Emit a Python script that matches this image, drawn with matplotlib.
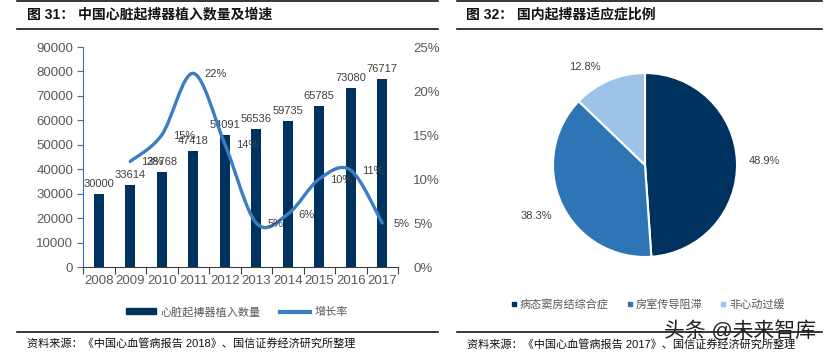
import matplotlib
matplotlib.use('Agg')
import matplotlib.pyplot as plt
from matplotlib.path import Path
from matplotlib.patches import PathPatch, Patch
from matplotlib.lines import Line2D

plt.rcParams['font.family'] = ['Liberation Sans', 'Noto Sans CJK SC']

# data
years = ['2008', '2009', '2010', '2011', '2012', '2013', '2014', '2015', '2016', '2017']
implants = [30000, 33614, 38768, 47418, 54091, 56536, 59735, 65785, 73080, 76717]
growth = [12, 15, 22, 14, 5, 6, 10, 11, 5]  # %, 2009-2017

pie_names = ['病态窦房结综合症', '房室传导阻滞', '非心动过缓']
pie_values = [48.9, 38.3, 12.8]

navy = '#00325F'
mid_blue = '#2E75B6'
light_blue = '#9DC3E6'
line_blue = '#3A7DC2'
txt = '#404040'


def smooth_path(xs, ys):
    # excel style smoothed line (catmull-rom as bezier)
    pts = list(zip(xs, ys))
    n = len(pts)
    verts = [pts[0]]
    codes = [Path.MOVETO]
    for i in range(n - 1):
        p0 = pts[max(i - 1, 0)]
        p1 = pts[i]
        p2 = pts[i + 1]
        p3 = pts[min(i + 2, n - 1)]
        c1 = (p1[0] + (p2[0] - p0[0]) / 6, p1[1] + (p2[1] - p0[1]) / 6)
        c2 = (p2[0] - (p3[0] - p1[0]) / 6, p2[1] - (p3[1] - p1[1]) / 6)
        verts += [c1, c2, p2]
        codes += [Path.CURVE4] * 3
    return Path(verts, codes)


W, H = 825, 354
fig = plt.figure(figsize=(W / 100, H / 100), dpi=100)

# frame lines and titles
for x0, x1 in [(17, 438), (457, 822)]:
    for yy in [0.5, 29, 332]:
        fig.add_artist(Line2D([x0 / W, x1 / W], [1 - yy / H, 1 - yy / H], color='black', lw=1.1))

fig.text(27 / W, 1 - 14 / H, '图 31： 中国心脏起搏器植入数量及增速', fontsize=10, fontweight='bold',
         va='center', ha='left', color='#111111')
fig.text(466 / W, 1 - 14 / H, '图 32： 国内起搏器适应症比例', fontsize=10, fontweight='bold',
         va='center', ha='left', color='#111111')
fig.text(27 / W, 1 - 343 / H, '资料来源：《中国心血管病报告 2018》、国信证券经济研究所整理', fontsize=8,
         va='center', ha='left', color='#111111')
fig.text(467 / W, 1 - 344 / H, '资料来源：《中国心血管病报告 2017》、国信证券经济研究所整理', fontsize=8,
         va='center', ha='left', color='#111111')

# left chart
ax = fig.add_axes([83 / W, 1 - 267 / H, 315 / W, 220 / H])
x = list(range(len(years)))
ax.bar(x, implants, width=0.31, color=navy, zorder=2)
for xi, v in zip(x, implants):
    ax.annotate(str(v), (xi, v), xytext=(0, 5), textcoords='offset pixels', ha='center', va='bottom',
                fontsize=8, color=txt)
ax.set_xlim(-0.5, len(years) - 0.5)
ax.set_ylim(0, 90000)
ax.set_yticks(range(0, 90001, 10000))
ax.set_xticks([i - 0.5 for i in range(len(years) + 1)])
ax.set_xticklabels([])
ax.set_xticks(x, minor=True)
ax.set_xticklabels(years, minor=True)
ax.tick_params(axis='x', which='major', length=5, color='#404040', direction='out')
ax.tick_params(axis='x', which='minor', length=0, pad=6, labelsize=9.5, labelcolor='#595959')
ax.tick_params(axis='y', length=4, color='#3C6EB4', pad=3, labelsize=9.5, labelcolor='#595959')
for s in ['top', 'right']:
    ax.spines[s].set_visible(False)
ax.spines['left'].set_color('#3C6EB4')
ax.spines['bottom'].set_color('#404040')

ax2 = ax.twinx()
ax2.set_ylim(0, 25)
ax2.set_yticks(range(0, 26, 5))
ax2.set_yticklabels([f'{v}%' for v in range(0, 26, 5)])
ax2.tick_params(axis='y', length=0, pad=11, labelsize=9.5, labelcolor='#595959')
for s in ax2.spines.values():
    s.set_visible(False)
gx = x[1:]
ax2.add_patch(PathPatch(smooth_path(gx, growth), fill=False, edgecolor=line_blue, lw=2.4,
                        capstyle='round', zorder=3))
for xi, g in zip(gx, growth):
    ax2.annotate(f'{g}%', (xi, g), xytext=(11, -1), textcoords='offset pixels', ha='left', va='center',
                 fontsize=8, color=txt)

handles = [Patch(color=navy), Line2D([], [], color=line_blue, lw=3)]
fig.legend(handles, ['心脏起搏器植入数量', '增长率'], loc='center', bbox_to_anchor=(237 / W, 1 - 312 / H),
           ncol=2, frameon=False, fontsize=8, handlelength=2.7, handleheight=0.45, handletextpad=0.4,
           columnspacing=1.7, labelcolor='#595959')

# pie chart
pax = fig.add_axes([(645 - 92) / W, 1 - (165 + 92) / H, 184 / W, 184 / H])
wedges, texts, autotexts = pax.pie(pie_values, colors=[navy, mid_blue, light_blue], startangle=90,
                                   counterclock=False, autopct='%.1f%%', pctdistance=1.3,
                                   wedgeprops=dict(edgecolor='white', linewidth=1.5))
for t in autotexts:
    t.set_fontsize(8)
    t.set_color(txt)
autotexts[2].set_position((-0.65, 1.07))
pax.set_xlim(-1, 1)
pax.set_ylim(-1, 1)

mk = [Line2D([], [], ls='none', marker='s', markersize=3, color=c) for c in [navy, mid_blue, light_blue]]
fig.legend(mk, pie_names, loc='center', bbox_to_anchor=(648 / W, 1 - 304 / H), ncol=3, frameon=False,
           fontsize=8, handlelength=0.5, handletextpad=0.3, columnspacing=1.6, labelcolor='#595959')

fig.text(740 / W, 1 - 331 / H, '头条 @未来智库', fontsize=15, ha='center', va='center', color='#222222')

fig.savefig('out.png', dpi=100)
